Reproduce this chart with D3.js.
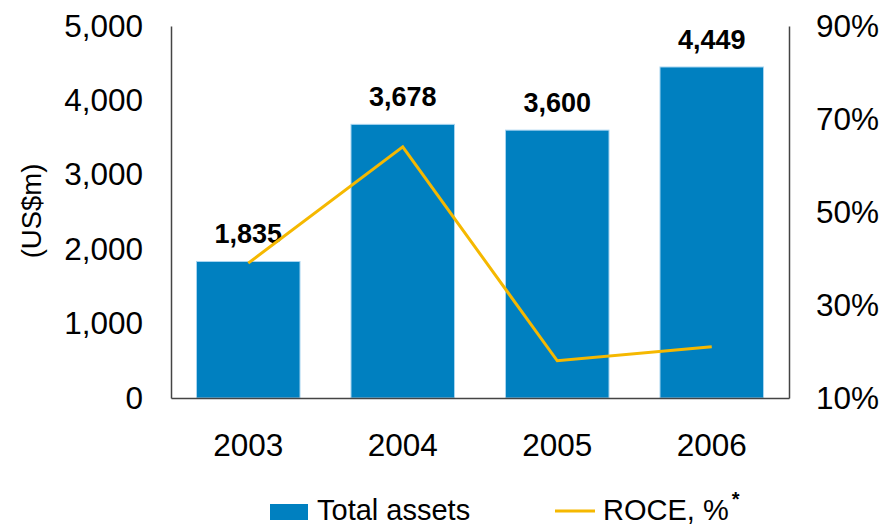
<!DOCTYPE html>
<html>
<head>
<meta charset="utf-8">
<script src="https://cdn.jsdelivr.net/npm/d3@7"></script>
<style>
  body { margin: 0; background: #fff; }
  text { font-family: Arial, "Liberation Sans", sans-serif; fill: #000; }
</style>
</head>
<body>
<svg id="chart" width="885" height="528"></svg>
<script>
// data
const years = ["2003", "2004", "2005", "2006"];
const totalAssets = [1835, 3678, 3600, 4449];
const roce = [39, 64, 18, 21];
const leftTicks = [0, 1000, 2000, 3000, 4000, 5000];
const rightTicks = [10, 30, 50, 70, 90];

const svg = d3.select("#chart");
const margin = { top: 26, right: 96, bottom: 130, left: 171 };
const width = 885, height = 528;

// scales
const x = d3.scaleBand()
  .domain(years)
  .range([margin.left, width - margin.right])
  .paddingInner(0.33)
  .paddingOuter(0.165);

const y = d3.scaleLinear()
  .domain([0, 5000])
  .range([height - margin.bottom, margin.top]);

const y2 = d3.scaleLinear()
  .domain([10, 90])
  .range([height - margin.bottom, margin.top]);

// bars
svg.append("g").selectAll("rect")
  .data(totalAssets)
  .join("rect")
  .attr("x", (d, i) => x(years[i]))
  .attr("y", d => y(d))
  .attr("width", x.bandwidth())
  .attr("height", d => y(0) - y(d))
  .attr("fill", "#0080c0")
  .attr("stroke", "#a8d4f0")
  .attr("stroke-width", 1);

// bar labels
svg.append("g").selectAll("text")
  .data(totalAssets)
  .join("text")
  .attr("x", (d, i) => x(years[i]) + x.bandwidth() / 2)
  .attr("y", d => y(d) - 18)
  .attr("text-anchor", "middle")
  .style("font-size", "27px")
  .style("font-weight", "bold")
  .text(d => d3.format(",")(d));

// ROCE line
const line = d3.line()
  .x((d, i) => x(years[i]) + x.bandwidth() / 2)
  .y(d => y2(d));

svg.append("path")
  .datum(roce)
  .attr("d", line)
  .attr("fill", "none")
  .attr("stroke", "#f5b800")
  .attr("stroke-width", 3);

// axes
const yAxis = g => g
  .attr("transform", "translate(" + margin.left + ",0)")
  .call(d3.axisLeft(y).tickValues(leftTicks).tickFormat(d3.format(",")).tickSize(0).tickPadding(28));
const y2Axis = g => g
  .attr("transform", "translate(" + (width - margin.right) + ",0)")
  .call(d3.axisRight(y2).tickValues(rightTicks).tickFormat(d => d + "%").tickSize(0).tickPadding(27));
const xAxis = g => g
  .attr("transform", "translate(0," + (height - margin.bottom) + ")")
  .call(d3.axisBottom(x).tickSize(0).tickPadding(36));

svg.append("g").call(yAxis);
svg.append("g").call(y2Axis);
svg.append("g").call(xAxis);

svg.selectAll(".tick text").style("font-size", "31.5px").attr("fill", "#000");
svg.selectAll(".domain").attr("stroke", "#444").attr("stroke-width", 1.5);

// axis title
svg.append("text")
  .attr("transform", "translate(41,211) rotate(-90)")
  .attr("text-anchor", "middle")
  .style("font-size", "27.5px")
  .text("(US$m)");

// legend (nudged up a little so descenders stay inside the frame)
const legend = svg.append("g");
legend.append("rect")
  .attr("x", 270).attr("y", 504)
  .attr("width", 38).attr("height", 16)
  .attr("fill", "#0080c0");
legend.append("text")
  .attr("x", 317).attr("y", 520)
  .style("font-size", "29px")
  .text("Total assets");
legend.append("line")
  .attr("x1", 555).attr("x2", 595)
  .attr("y1", 511).attr("y2", 511)
  .attr("stroke", "#f5b800").attr("stroke-width", 3);
const roceLabel = legend.append("text")
  .attr("x", 603).attr("y", 520)
  .style("font-size", "29px")
  .text("ROCE, %");
roceLabel.append("tspan")
  .attr("dx", 3).attr("dy", -14)
  .style("font-size", "20px")
  .style("font-weight", "bold")
  .text("*");
</script>
</body>
</html>
